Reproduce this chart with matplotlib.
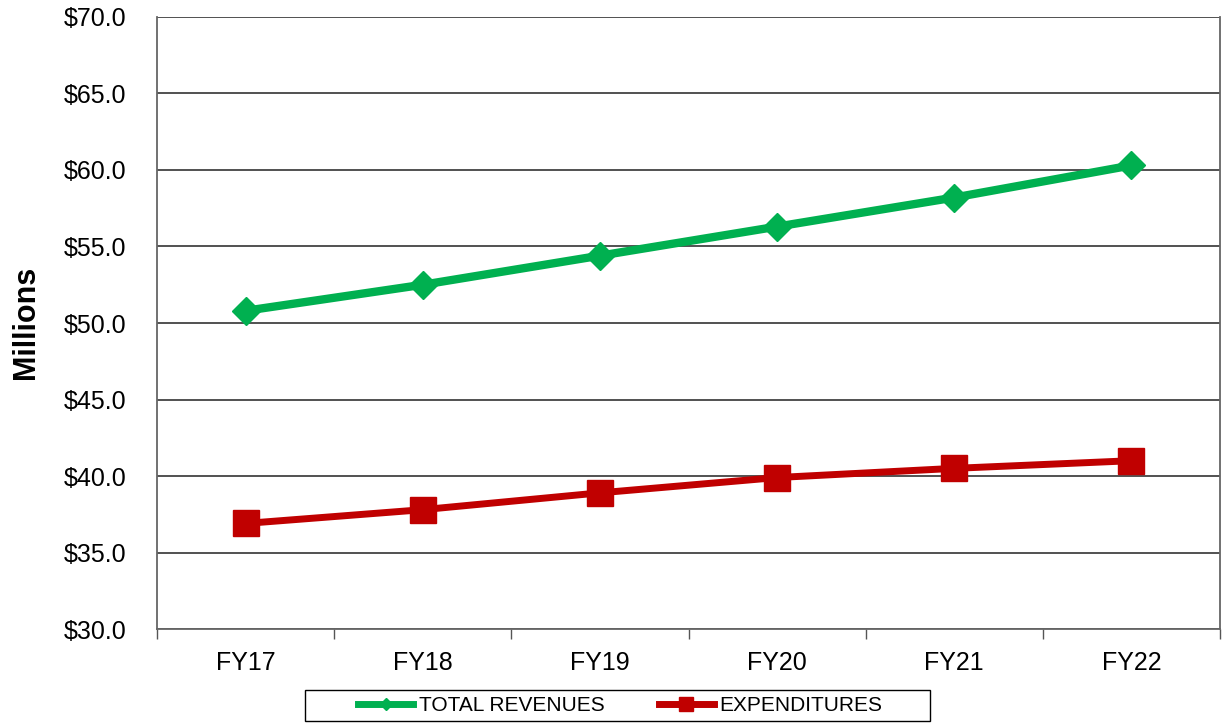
import matplotlib
matplotlib.use("Agg")
import matplotlib.pyplot as plt
from matplotlib.lines import Line2D
from matplotlib.patches import Rectangle
from matplotlib.ticker import FuncFormatter, FixedLocator

plt.rcParams['font.family'] = ['Liberation Sans', 'DejaVu Sans']

years: list[str] = ['FY17', 'FY18', 'FY19', 'FY20', 'FY21', 'FY22']
revenues: list[float] = [50.8, 52.5, 54.4, 56.3, 58.2, 60.3]
expenditures: list[float] = [36.9, 37.8, 38.9, 39.9, 40.5, 41.0]

green = '#00B050'
red = '#C00000'

fig = plt.figure(figsize=(12.22, 7.23), dpi=100)
ax = fig.add_axes([0.1285, 0.130, 0.8699, 0.8465])

xs = [i + 0.5 for i in range(len(years))]
ax.plot(xs, revenues, color=green, lw=6, marker='D', ms=14,
        mec=green, mew=1, zorder=4)
ax.plot(xs, expenditures, color=red, lw=5, marker='s', ms=19,
        mec=red, mew=1, zorder=3)

# --- axes ---
ax.set_xlim(0, len(years))
ax.set_ylim(30, 70)
ax.set_yticks(range(30, 71, 5))
ax.yaxis.set_major_formatter(FuncFormatter(lambda v, p: f'${v:.1f}'))
ax.tick_params(axis='y', length=0, pad=22, labelsize=18)

ax.xaxis.set_major_locator(FixedLocator(range(len(years) + 1)))
ax.xaxis.set_minor_locator(FixedLocator(xs))
ax.set_xticklabels([], minor=False)
ax.set_xticklabels(years, minor=True)
ax.tick_params(axis='x', which='major', length=7, width=1, color='#555555')
ax.tick_params(axis='x', which='minor', length=0, pad=16, labelsize=18)

ax.grid(axis='y', color='#333333', lw=1.2, zorder=0)
for side in ['left', 'right', 'bottom']:
    ax.spines[side].set_color('#666666')
    ax.spines[side].set_linewidth(1.3)
ax.spines['top'].set_visible(False)

fig.text(0.021, 0.554, 'Millions', rotation=90, fontsize=22,
         fontweight='bold', ha='center', va='center')

# --- legend ---
handles = [
    Line2D([], [], color=green, lw=5, marker='D', ms=6, mec=green),
    Line2D([], [], color=red, lw=5, marker='s', ms=10, mec=red),
]
fig.legend(handles, ['TOTAL REVENUES', 'EXPENDITURES'], loc='center',
           bbox_to_anchor=(0.5075, 0.0242), ncol=2, fontsize=15,
           frameon=False, handlelength=2.65, columnspacing=2.6,
           handletextpad=0.25, borderpad=0)
fig.patches.append(Rectangle((305 / 1222, 2 / 723), 625 / 1222, 31 / 723,
                             transform=fig.transFigure, fill=False,
                             edgecolor='black', lw=1))

fig.savefig('out.png', dpi=100)
